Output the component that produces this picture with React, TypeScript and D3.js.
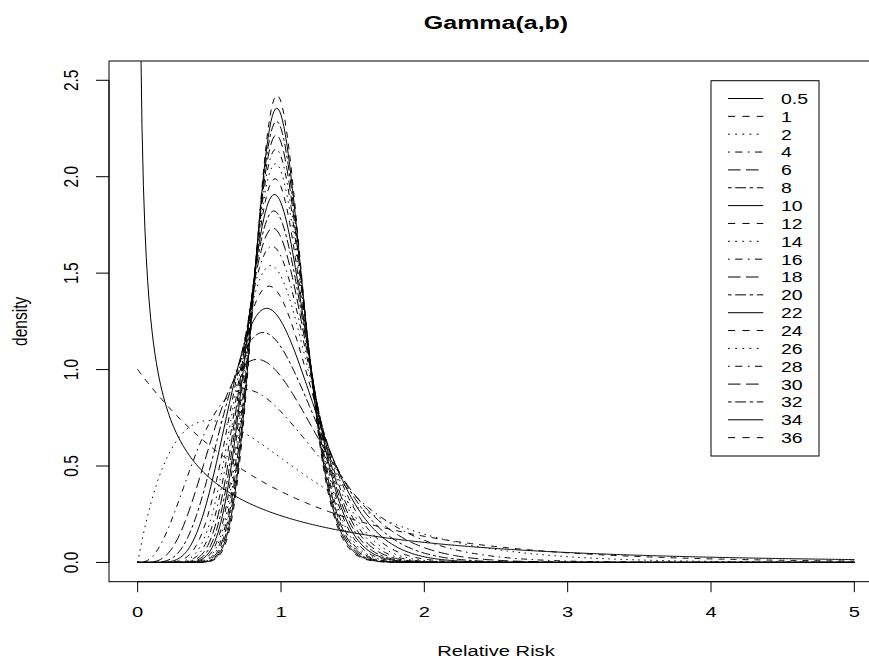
import React from "react";
import * as d3 from "d3";

// Legend / series parameters: Gamma(a, b) with a = b
const shapes = [0.5, 1, 2, 4, 6, 8, 10, 12, 14, 16, 18, 20, 22, 24, 26, 28, 30, 32, 34, 36];
const legendLabels = ["0.5", "1", "2", "4", "6", "8", "10", "12", "14", "16", "18", "20", "22", "24", "26", "28", "30", "32", "34", "36"];
const xTicks = [0, 1, 2, 3, 4, 5];
const xTickLabels = ["0", "1", "2", "3", "4", "5"];
const yTicks = [0, 0.5, 1, 1.5, 2, 2.5];
const yTickLabels = ["0.0", "0.5", "1.0", "1.5", "2.0", "2.5"];
const title = "Gamma(a,b)";
const xLabel = "Relative Risk";
const yLabel = "density";

// R lty patterns (solid, dashed, dotted, dotdash, longdash, twodash)
const ltyPatterns: number[][] = [[], [4, 4], [1, 3], [1, 3, 4, 3], [7, 3], [2, 2, 6, 2]];

function lgamma(z: number): number {
  const g = 7;
  const c = [0.99999999999980993, 676.5203681218851, -1259.1392167224028, 771.32342877765313,
    -176.61502916214059, 12.507343278686905, -0.13857109526572012, 9.9843695780195716e-6, 1.5056327351493116e-7];
  if (z < 0.5) return Math.log(Math.PI / Math.sin(Math.PI * z)) - lgamma(1 - z);
  z -= 1;
  let x = c[0];
  for (let i = 1; i < g + 2; i++) x += c[i] / (z + i);
  const t = z + g + 0.5;
  return 0.5 * Math.log(2 * Math.PI) + (z + 0.5) * Math.log(t) - t + Math.log(x);
}

function dgamma(x: number, a: number, b: number): number {
  if (x < 0) return 0;
  if (x === 0) {
    if (a < 1) return Infinity;
    if (a === 1) return b;
    return 0;
  }
  return Math.exp(a * Math.log(b) - lgamma(a) + (a - 1) * Math.log(x) - b * x);
}

const W = 869, H = 659;
const PL = 109, PR = 883, PT = 61, PB = 581.7;
const SX = 1.3; // horizontal text stretch
const FONT = "'Liberation Sans', Arial, Helvetica, sans-serif";

export default function App() {
  const x = d3.scaleLinear().domain([-0.2, 5.2]).range([PL, PR]);
  const y = d3.scaleLinear().domain([-0.1, 2.6]).range([PB, PT]);
  const grid = d3.range(0, 501).map((i) => i / 100);
  const line = d3.line<[number, number]>()
    .defined((d) => isFinite(d[1]))
    .x((d) => x(d[0]))
    .y((d) => y(Math.min(d[1], 50)));

  const curveUnit = 1.5;
  const legUnit = 1.8;
  const legX0 = 728, legX1 = 763.3, legTextX = 781;
  const rowY0 = 98.5, rowStep = 17.85;

  return (
    <svg width={W} height={H} style={{ position: "absolute", left: 0, top: 0, background: "#fff" }}>
      <defs>
        <clipPath id="plotclip">
          <rect x={PL} y={PT} width={PR - PL} height={PB - PT} />
        </clipPath>
      </defs>
      <rect x={0} y={0} width={W} height={H} fill="#fff" />
      <g clipPath="url(#plotclip)" fill="none" stroke="#000" strokeWidth={1}>
        {shapes.map((a, i) => {
          const pts: [number, number][] = grid.map((g) => [g, dgamma(g, a, a)]);
          const pat = ltyPatterns[i % 6];
          return (
            <path key={i} d={line(pts) || ""}
              strokeDasharray={pat.length ? pat.map((v) => v * curveUnit).join(",") : undefined} />
          );
        })}
      </g>
      {/* box */}
      <rect x={PL} y={PT} width={PR - PL} height={PB - PT} fill="none" stroke="#000" strokeWidth={1} />
      {/* x axis */}
      <g stroke="#000" strokeWidth={1}>
        <line x1={x(0)} x2={x(5)} y1={PB} y2={PB} />
        {xTicks.map((t) => (
          <line key={t} x1={x(t)} x2={x(t)} y1={PB} y2={PB + 10.5} />
        ))}
        <line x1={PL} x2={PL} y1={y(0)} y2={y(2.5)} />
        {yTicks.map((t) => (
          <line key={t} x1={PL} x2={PL - 13} y1={y(t)} y2={y(t)} />
        ))}
      </g>
      <g fontFamily={FONT} fontSize={15.5} fill="#000">
        {xTicks.map((t, i) => (
          <text key={t} transform={`translate(${x(t)},617.3) scale(${SX},1)`} textAnchor="middle">{xTickLabels[i]}</text>
        ))}
        {yTicks.map((t, i) => (
          <text key={t} transform={`translate(78.3,${y(t)}) scale(${SX},1) rotate(-90)`} textAnchor="middle">{yTickLabels[i]}</text>
        ))}
        <text transform={`translate(${(PL + PR) / 2},655.5) scale(${SX},1)`} textAnchor="middle">{xLabel}</text>
        <text transform={`translate(26.5,${(PT + PB) / 2}) scale(${SX},1) rotate(-90)`} textAnchor="middle">{yLabel}</text>
        <text transform={`translate(${(PL + PR) / 2},28.5) scale(1.35,1)`} textAnchor="middle" fontWeight="bold" fontSize={18.5}>{title}</text>
      </g>
      {/* legend */}
      <rect x={711} y={80.7} width={108} height={375.3} fill="#fff" stroke="#000" strokeWidth={1} />
      {legendLabels.map((lab, i) => {
        const ry = rowY0 + i * rowStep;
        const pat = ltyPatterns[i % 6];
        return (
          <g key={lab}>
            <line x1={legX0} x2={legX1} y1={ry} y2={ry} stroke="#000" strokeWidth={1}
              strokeDasharray={pat.length ? pat.map((v) => v * legUnit).join(",") : undefined} />
            <text transform={`translate(${legTextX},${ry + 5.4}) scale(${SX},1)`} fontFamily={FONT} fontSize={15} fill="#000">{lab}</text>
          </g>
        );
      })}
    </svg>
  );
}
